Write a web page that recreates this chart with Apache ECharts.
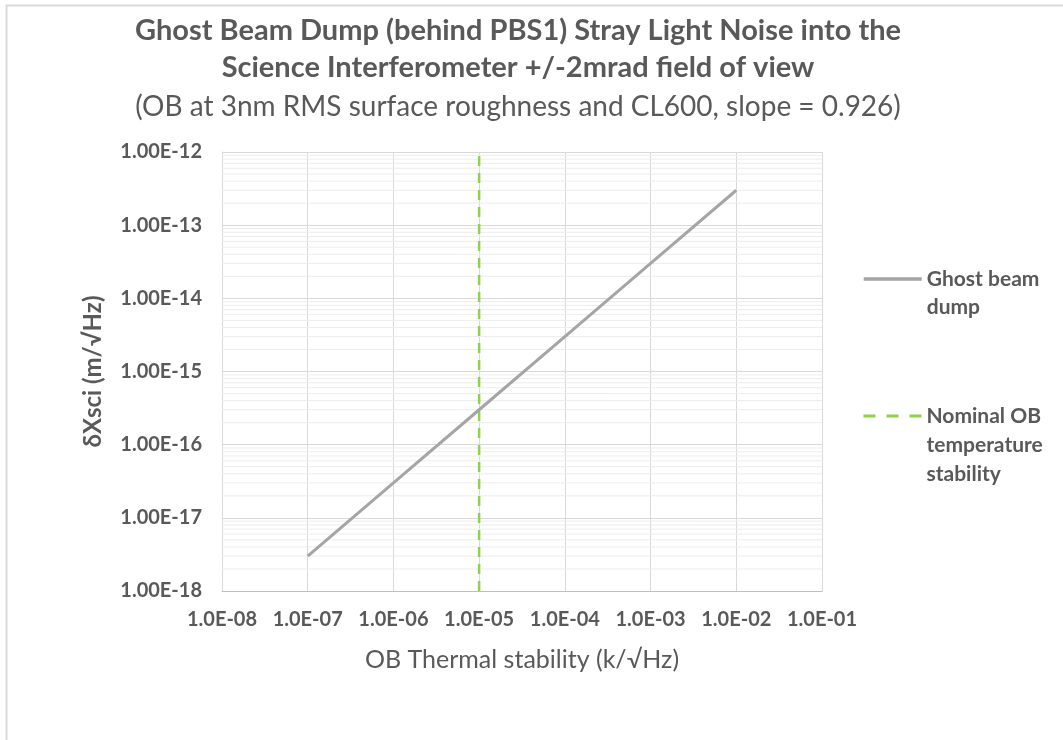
<!DOCTYPE html>
<html>
<head>
<meta charset="utf-8">
<script src="https://cdn.jsdelivr.net/npm/echarts@6/dist/echarts.min.js"></script>
<style>html,body{margin:0;padding:0;background:#fff;}#c{width:1063px;height:740px;}</style>
</head>
<body>
<div id="c"></div>
<script>
const xTickLabels = ['1.0E-08','1.0E-07','1.0E-06','1.0E-05','1.0E-04','1.0E-03','1.0E-02','1.0E-01'];
const xMinExp = -8;
const yTickLabels = ['1.00E-18','1.00E-17','1.00E-16','1.00E-15','1.00E-14','1.00E-13','1.00E-12'];
const yMinExp = -18;
const ghostX = [1e-7, 1e-6, 1e-5, 1e-4, 1e-3, 1e-2];
const ghostY = [3e-18, 3e-17, 3e-16, 3e-15, 3e-14, 3e-13];
const nominalX = [1e-5, 1e-5];
const nominalY = [1e-18, 1e-12];
const minorMultipliers = [2, 3, 4, 5, 6, 7, 8, 9];

const xMin = 1e-8, xMax = 1e-1;
const minorData = [];
for (let i = 0; i < yTickLabels.length - 1; i++) {
  const base = Math.pow(10, yMinExp + i);
  minorMultipliers.forEach(m => {
    minorData.push([xMin, m * base], [xMax, m * base], [xMax, '-']);
  });
}

const txt = '#595959';
const font = 'Lato';
const chart = echarts.init(document.getElementById('c'));
chart.setOption({
  animation: false,
  backgroundColor: '#ffffff',
  graphic: [{
    type: 'rect', silent: true, z: -1,
    shape: { x: 6.5, y: 5.5, width: 1100, height: 800 },
    style: { fill: 'none', stroke: '#d9d9d9', lineWidth: 2 }
  }],
  title: {
    text: 'Ghost Beam Dump (behind PBS1) Stray Light Noise into the\nScience Interferometer +/-2mrad field of view',
    subtext: '(OB at 3nm RMS surface roughness and CL600, slope = 0.926)',
    left: 513, textAlign: 'center', top: 7, itemGap: 4.5,
    textStyle: { fontFamily: font, fontSize: 29, fontWeight: 'bold', color: txt, lineHeight: 37 },
    subtextStyle: { fontFamily: font, fontSize: 28, color: txt, lineHeight: 32 }
  },
  legend: [{
    orient: 'vertical', left: 857, top: 232, itemWidth: 58, itemHeight: 14,
    itemStyle: { opacity: 0 },
    data: [{ name: 'Ghost beam dump', lineStyle: { width: 3.5 } }],
    formatter: n => '\nGhost beam\ndump',
    textStyle: { fontFamily: font, fontSize: 21, fontWeight: 'bold', color: txt, lineHeight: 28 }
  }, {
    orient: 'vertical', left: 857, top: 338.5, itemWidth: 58, itemHeight: 14,
    itemStyle: { opacity: 0 },
    data: [{ name: 'Nominal OB temperature stability', lineStyle: { width: 3, type: [12, 11] } }],
    formatter: n => '\n\nNominal OB\ntemperature\nstability',
    textStyle: { fontFamily: font, fontSize: 21, fontWeight: 'bold', color: txt, lineHeight: 29 }
  }],
  grid: { left: 222, top: 152, right: 241, bottom: 149, containLabel: false },
  xAxis: {
    type: 'log', logBase: 10, min: xMin, max: xMax, interval: 1,
    name: 'OB Thermal stability (k/√Hz)', nameLocation: 'middle', nameGap: 56,
    nameTextStyle: { fontFamily: font, fontSize: 25, color: txt },
    axisLine: { show: true, lineStyle: { color: '#bfbfbf', width: 1 } },
    axisTick: { show: false },
    axisLabel: {
      margin: 19, fontFamily: font, fontSize: 20, fontWeight: 'bold', color: txt,
      formatter: v => xTickLabels[Math.round(Math.log10(v)) - xMinExp]
    },
    splitLine: { show: true, lineStyle: { color: '#d9d9d9', width: 1 } },
    minorTick: { show: false }, minorSplitLine: { show: false }
  },
  yAxis: {
    type: 'log', logBase: 10, min: 1e-18, max: 1e-12, interval: 1,
    name: 'δXsci (m/√Hz)', nameLocation: 'middle', nameGap: 117, nameRotate: 90,
    nameTextStyle: { fontFamily: font, fontSize: 24, fontWeight: 'bold', color: txt },
    axisLine: { show: true, lineStyle: { color: '#d9d9d9', width: 1 } },
    axisTick: { show: false },
    axisLabel: {
      margin: 20, fontFamily: font, fontSize: 20, fontWeight: 'bold', color: txt,
      formatter: v => yTickLabels[Math.round(Math.log10(v)) - yMinExp]
    },
    splitLine: { show: true, lineStyle: { color: '#d9d9d9', width: 1 } },
    minorTick: { show: false }, minorSplitLine: { show: false }
  },
  series: [{
    name: 'minor grid', type: 'line', symbol: 'none', silent: true, z: 1,
    connectNulls: false,
    data: minorData,
    lineStyle: { color: '#ededed', width: 1 },
    emphasis: { disabled: true }
  }, {
    name: 'Ghost beam dump', type: 'line', symbol: 'none', z: 3,
    data: ghostX.map((x, i) => [x, ghostY[i]]),
    lineStyle: { color: '#a5a5a5', width: 3 }, itemStyle: { color: '#a5a5a5' }
  }, {
    name: 'Nominal OB temperature stability', type: 'line', symbol: 'none', z: 2,
    data: nominalX.map((x, i) => [x, nominalY[i]]),
    lineStyle: { color: '#92d050', width: 2.5, type: [10, 7] }, itemStyle: { color: '#92d050' }
  }]
});
</script>
</body>
</html>
